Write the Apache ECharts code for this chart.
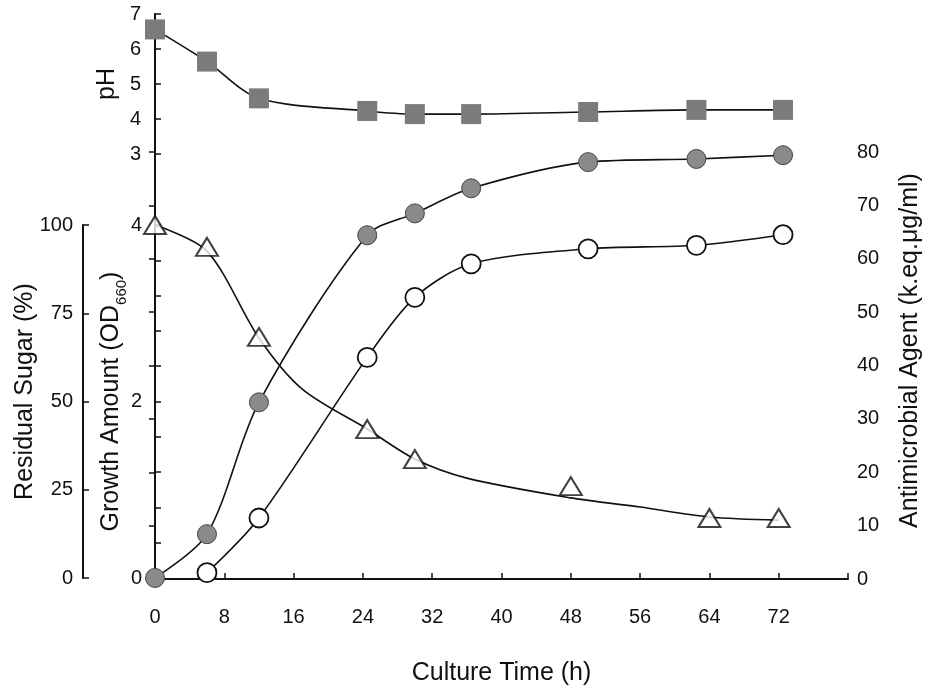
<!DOCTYPE html>
<html>
<head>
<meta charset="utf-8">
<script src="https://cdn.jsdelivr.net/npm/echarts@6/dist/echarts.min.js"></script>
<style>
  html, body { margin: 0; padding: 0; background: #fff; }
  #chart { width: 927px; height: 690px; }
</style>
</head>
<body>
<div id="chart"></div>
<script>
// culture time (h) and readings, estimated from the figure
const phTime = [0, 6, 12, 24.5, 30, 36.5, 50, 62.5, 72.5];
const phValue = [6.56, 5.64, 4.59, 4.23, 4.14, 4.14, 4.2, 4.26, 4.26];

const agentTime = [0, 6, 12, 24.5, 30, 36.5, 50, 62.5, 72.5];
const agentValue = [0.2, 8.4, 33.1, 64.4, 68.5, 73.2, 78.1, 78.7, 79.4];

const growthTime = [6, 12, 24.5, 30, 36.5, 50, 62.5, 72.5];
const growthValue = [0.06, 0.68, 2.5, 3.18, 3.56, 3.73, 3.77, 3.89];

const sugarTime = [0, 6, 12, 24.5, 30, 48, 64, 72];
const sugarValue = [100, 93.8, 68.3, 42.2, 33.7, 26, 17, 17];

// fitted curve drawn through the residual sugar points
const sugarFitTime = [0, 6, 12, 17, 24.5, 30, 36, 48, 56, 64, 72];
const sugarFitValue = [100, 92.6, 68, 53.5, 42.2, 33.7, 28.3, 22.7, 20.1, 17.3, 16.4];

const xTicks = [0, 8, 16, 24, 32, 40, 48, 56, 64, 72];

const pairs = (xs, ys) => xs.map((x, i) => [x, ys[i]]);

const FONT = "Liberation Sans";
const INK = "#111";

const axisBase = {
  nameMoveOverlap: false,
  axisLine: { show: true, lineStyle: { color: INK, width: 2 } },
  axisTick: { show: true, inside: true, length: 6, lineStyle: { color: INK, width: 1.5 } },
  axisLabel: { color: INK, fontFamily: FONT, fontSize: 20 },
  splitLine: { show: false },
  nameTextStyle: { color: INK, fontFamily: FONT, fontSize: 25 },
};

const chart = echarts.init(document.getElementById("chart"));

const option = {
  animation: false,
  backgroundColor: "#fff",
  grid: [
    { left: 155, right: 79, top: 14, height: 140, outerBoundsMode: "none" },
    { left: 155, right: 79, top: 152, height: 427, outerBoundsMode: "none" },
    { left: 155, right: 79, top: 225, height: 353, outerBoundsMode: "none" },
  ],
  xAxis: [
    { gridIndex: 0, type: "value", min: 0, max: 80, show: false },
    {
      ...axisBase,
      gridIndex: 1,
      type: "value",
      min: 0,
      max: 80,
      interval: 8,
      name: "Culture Time (h)",
      nameLocation: "middle",
      nameGap: 82,
      axisLabel: {
        ...axisBase.axisLabel,
        margin: 28,
        formatter: (v) => (xTicks.includes(v) ? String(v) : ""),
      },
    },
    { gridIndex: 2, type: "value", min: 0, max: 80, show: false },
  ],
  yAxis: [
    {
      ...axisBase,
      gridIndex: 0,
      type: "value",
      min: 3,
      max: 7,
      interval: 1,
      name: "pH",
      nameLocation: "middle",
      nameGap: 35,
      axisLabel: { ...axisBase.axisLabel, margin: 14 },
    },
    {
      ...axisBase,
      gridIndex: 1,
      type: "value",
      position: "right",
      min: 0,
      max: 80,
      interval: 10,
      name: "Antimicrobial Agent (k.eq.\u03bcg/ml)",
      nameLocation: "middle",
      nameGap: 50,
      nameTextStyle: { ...axisBase.nameTextStyle, padding: [0, 0, 0, 30] },
      axisLabel: { ...axisBase.axisLabel, margin: 9 },
    },
    {
      ...axisBase,
      gridIndex: 2,
      type: "value",
      position: "left",
      min: 0,
      max: 4,
      interval: 0.4,
      name: "Growth Amount (OD{sub|660})",
      nameLocation: "middle",
      nameGap: 26,
      nameTextStyle: {
        ...axisBase.nameTextStyle,
        rich: { sub: { fontFamily: FONT, fontSize: 15, color: INK, padding: [20, 0, 0, 0] } },
      },
      axisLabel: {
        ...axisBase.axisLabel,
        margin: 13,
        formatter: (v) => {
          const r = Math.round(v);
          return Math.abs(v - r) < 1e-6 && r % 2 === 0 ? String(r) : "";
        },
      },
    },
    {
      ...axisBase,
      gridIndex: 2,
      type: "value",
      position: "left",
      offset: 72,
      min: 0,
      max: 100,
      interval: 25,
      name: "Residual Sugar (%)",
      nameLocation: "middle",
      nameGap: 45,
      nameTextStyle: { ...axisBase.nameTextStyle, padding: [0, 0, 0, 20] },
      axisLabel: { ...axisBase.axisLabel, margin: 10 },
    },
  ],
  series: [
    {
      name: "pH",
      type: "line",
      xAxisIndex: 0,
      yAxisIndex: 0,
      data: pairs(phTime, phValue),
      smooth: 0.3,
      symbol: "rect",
      symbolSize: 20,
      itemStyle: { color: "#7b7b7b" },
      lineStyle: { color: INK, width: 1.6 },
    },
    {
      name: "Residual sugar fit",
      type: "line",
      xAxisIndex: 2,
      yAxisIndex: 3,
      data: pairs(sugarFitTime, sugarFitValue),
      smooth: 0.3,
      showSymbol: false,
      symbol: "none",
      lineStyle: { color: INK, width: 1.6 },
    },
    {
      name: "Growth",
      type: "line",
      xAxisIndex: 2,
      yAxisIndex: 2,
      data: pairs(growthTime, growthValue),
      smooth: 0.3,
      symbol: "circle",
      symbolSize: 19,
      itemStyle: { color: "#fff", borderColor: INK, borderWidth: 1.8 },
      lineStyle: { color: INK, width: 1.6 },
    },
    {
      name: "Antimicrobial agent",
      type: "line",
      xAxisIndex: 1,
      yAxisIndex: 1,
      data: pairs(agentTime, agentValue),
      smooth: 0.3,
      symbol: "circle",
      symbolSize: 19,
      itemStyle: { color: "#8a8a8a", borderColor: "#444", borderWidth: 1 },
      lineStyle: { color: INK, width: 1.6 },
    },
    {
      name: "Residual sugar",
      type: "scatter",
      z: 5,
      xAxisIndex: 2,
      yAxisIndex: 3,
      data: pairs(sugarTime, sugarValue),
      symbol: "triangle",
      symbolSize: [22, 18],
      itemStyle: { color: "#fff", borderColor: INK, borderWidth: 2 },
    },
  ],
};

chart.setOption(option);
</script>
</body>
</html>
